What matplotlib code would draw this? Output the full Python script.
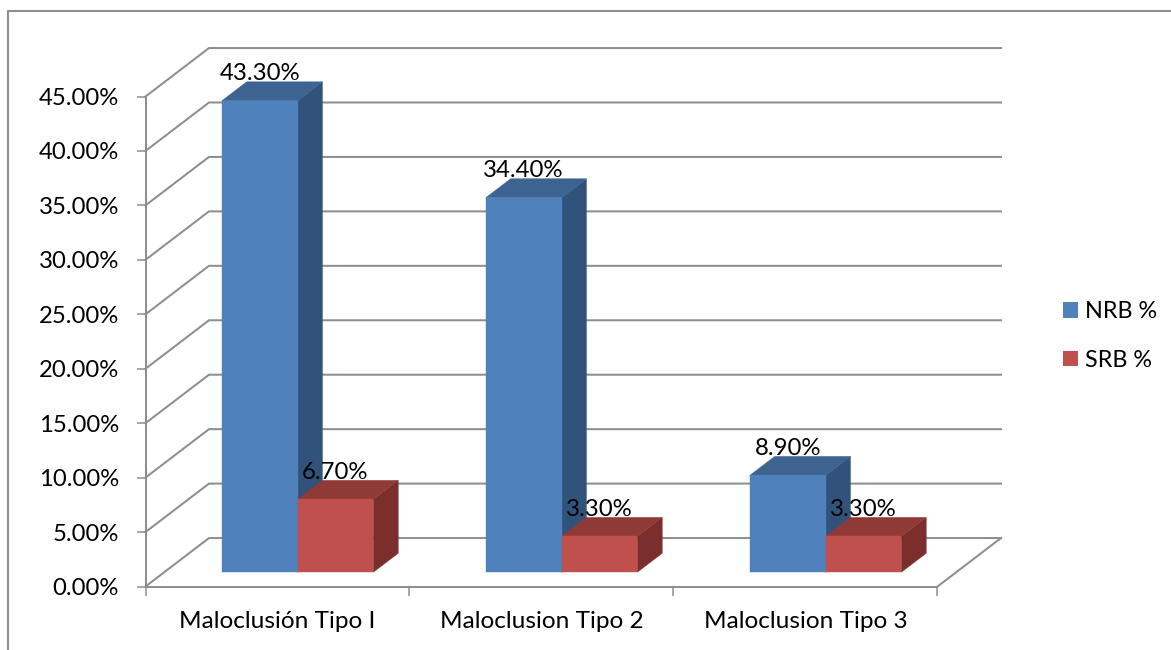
import matplotlib
matplotlib.use("Agg")
import matplotlib.pyplot as plt
from matplotlib.lines import Line2D
from matplotlib.patches import Patch, Polygon
import numpy as np

categories = ["Maloclusión Tipo I", "Maloclusion Tipo 2", "Maloclusion Tipo 3"]
nrb_values = [43.30, 34.40, 8.90]
srb_values = [6.70, 3.30, 3.30]
series_names = ["NRB %", "SRB %"]
y_ticks = [0, 5, 10, 15, 20, 25, 30, 35, 40, 45]

# face colours of each box: front, side, top
BLUE = ("#4F81BD", "#31527A", "#3D6391")
RED = ("#C0504D", "#7B2F2D", "#8F3A37")
GRID = "#8E8E8E"

W, H = 1171, 650
# oblique projection: how far the back wall is shifted from the front plane
DEPTH_X = 0.2405   # in categories
DEPTH_Y = 4.45     # in percent
BAR_Z0 = 0.293     # fraction of depth where the boxes start
BAR_Z1 = 0.685
BAR_W = 0.287
BAR_START = 0.2185

plt.rcParams["font.family"] = ["Lato", "DejaVu Sans"]
plt.rcParams["font.size"] = 17

fig = plt.figure(figsize=(W / 100, H / 100), dpi=100)
left, right = 145.5, 937.5
bottom, top = 586.5, 96.5
ax = fig.add_axes([left / W, 1 - bottom / H, (right - left) / W, (bottom - top) / H])
ax.set_xlim(0, 3)
ax.set_ylim(0, 45)
ax.patch.set_visible(False)


def project(x, y, z):
    return (x + z * DEPTH_X, y + z * DEPTH_Y)


def draw_box(x, value, colors):
    x0, x1 = x, x + BAR_W
    front = [project(x0, 0, BAR_Z0), project(x1, 0, BAR_Z0),
             project(x1, value, BAR_Z0), project(x0, value, BAR_Z0)]
    side = [project(x1, 0, BAR_Z0), project(x1, 0, BAR_Z1),
            project(x1, value, BAR_Z1), project(x1, value, BAR_Z0)]
    cap = [project(x0, value, BAR_Z0), project(x1, value, BAR_Z0),
           project(x1, value, BAR_Z1), project(x0, value, BAR_Z1)]
    for pts, c in zip((side, cap, front), (colors[1], colors[2], colors[0])):
        ax.add_patch(Polygon(pts, closed=True, facecolor=c, edgecolor=c,
                             linewidth=0.3, zorder=3, clip_on=False))


def draw_label(x, value):
    cx, cy = project(x + BAR_W / 2, value, BAR_Z0)
    ax.annotate("%.2f%%" % value, (cx, cy), xytext=(0, 19.5),
                textcoords="offset points", ha="center", va="center",
                fontsize=17.3, color="black", zorder=6, annotation_clip=False)


# walls and floor
for v in y_ticks:
    a = project(0, v, 0)
    b = project(0, v, 1)
    c = project(3, v, 1)
    ax.plot([a[0], b[0], c[0]], [a[1], b[1], c[1]], color=GRID, lw=1.45,
            zorder=1, clip_on=False, solid_joinstyle="miter")
a = project(3, 0, 0)
b = project(3, 0, 1)
ax.plot([a[0], b[0]], [a[1], b[1]], color=GRID, lw=1.45, zorder=1, clip_on=False)

# boxes, drawn left to right so each one overlaps the previous side face
for i in range(len(categories)):
    x_nrb = i + BAR_START
    x_srb = x_nrb + BAR_W
    draw_box(x_nrb, nrb_values[i], BLUE)
    draw_box(x_srb, srb_values[i], RED)
    draw_label(x_nrb, nrb_values[i])
    draw_label(x_srb, srb_values[i])

# axes
for name in ("top", "right"):
    ax.spines[name].set_visible(False)
for name in ("left", "bottom"):
    ax.spines[name].set_color(GRID)
    ax.spines[name].set_linewidth(1.45)
    ax.spines[name].set_zorder(2)

ax.set_yticks(y_ticks)
ax.set_yticklabels(["%.2f%%" % v for v in y_ticks])
ax.tick_params(axis="y", length=6.5, width=1.1, color=GRID, pad=12.5, labelsize=17.2)
ax.set_xticks(np.arange(4))
ax.set_xticklabels([])
ax.set_xticks(np.arange(3) + 0.5, minor=True)
ax.set_xticklabels(categories, minor=True)
ax.tick_params(axis="x", which="major", length=6.5, width=1.1, color=GRID)
ax.tick_params(axis="x", which="minor", length=0, pad=17.5, labelsize=17.6)

handles = [Patch(facecolor=BLUE[0], label=series_names[0]),
           Patch(facecolor=RED[0], label=series_names[1])]
ax.legend(handles=handles, loc="center left", bbox_to_anchor=(1056 / W, 1 - 336 / H),
          bbox_transform=fig.transFigure, frameon=False, fontsize=16.8,
          handlelength=0.64, handleheight=0.64, handletextpad=0.3,
          labelspacing=1.19, borderpad=0.3, borderaxespad=0)

# outer chart frame, open on the right
fig.add_artist(Line2D([8 / W, 8 / W, 1.0], [0, 1 - 11 / H, 1 - 11 / H],
                      color=GRID, lw=1.5, transform=fig.transFigure))

fig.savefig("out.png", dpi=100, facecolor="white")
